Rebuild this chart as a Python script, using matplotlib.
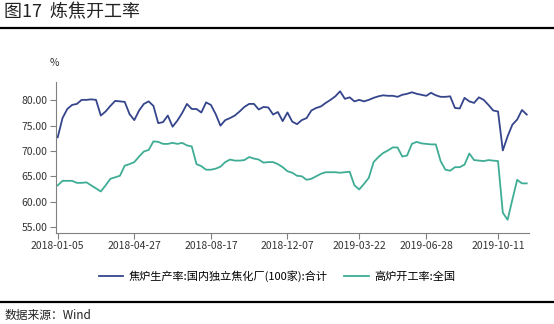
import numpy as np
import pandas as pd
import matplotlib
matplotlib.use('Agg')
import matplotlib.pyplot as plt

plt.rcParams['font.family'] = ['Noto Sans CJK SC', 'DejaVu Sans']

# weekly data, 2018-01-05 .. 2019-11-22
dates = pd.date_range('2018-01-05', periods=99, freq='7D')

coke_rate = [72.7, 76.5, 78.3, 79.1, 79.3, 80.1, 80.1, 80.2, 80.1, 77.0,
             77.8, 78.9, 79.9, 79.8, 79.7, 77.3, 76.1, 78.0, 79.3, 79.8,
             78.9, 75.5, 75.7, 77.0, 74.8, 76.0, 77.5, 79.3, 78.3, 78.3,
             77.6, 79.6, 79.1, 77.3, 75.0, 76.1, 76.5, 77.0, 77.8, 78.7,
             79.3, 79.3, 78.2, 78.7, 78.6, 77.2, 77.7, 75.9, 77.6, 75.8,
             75.3, 76.1, 76.5, 78.0, 78.5, 78.8, 79.5, 80.1, 80.8, 81.8,
             80.3, 80.6, 79.8, 80.1, 79.8, 80.1, 80.5, 80.8, 81.0, 80.9,
             80.9, 80.7, 81.1, 81.3, 81.6, 81.3, 81.1, 80.9, 81.5, 81.0,
             80.7, 80.7, 80.8, 78.5, 78.4, 80.5, 79.8, 79.5, 80.6, 80.1,
             79.1, 78.0, 77.8, 70.1, 72.9, 75.2, 76.2, 78.1, 77.2]

blast_rate = [63.2, 64.1, 64.1, 64.1, 63.7, 63.7, 63.8, 63.2, 62.6, 62.0,
              63.2, 64.5, 64.8, 65.1, 67.1, 67.4, 67.8, 68.9, 69.9, 70.2,
              71.9, 71.8, 71.4, 71.4, 71.6, 71.4, 71.6, 71.1, 70.9, 67.4,
              67.0, 66.3, 66.3, 66.5, 66.9, 67.8, 68.3, 68.1, 68.1, 68.2,
              68.8, 68.5, 68.3, 67.7, 67.8, 67.8, 67.4, 66.8, 66.0, 65.7,
              65.1, 65.0, 64.3, 64.5, 65.0, 65.5, 65.8, 65.8, 65.8, 65.7,
              65.8, 65.9, 63.2, 62.4, 63.5, 64.7, 67.8, 68.8, 69.6, 70.1,
              70.7, 70.7, 68.9, 69.1, 71.4, 71.8, 71.5, 71.4, 71.3, 71.3,
              68.0, 66.3, 66.1, 66.8, 66.8, 67.3, 69.5, 68.2, 68.1, 68.0,
              68.2, 68.1, 68.0, 57.8, 56.4, 60.4, 64.3, 63.6, 63.6]

tick_dates = ['2018-01-05', '2018-04-27', '2018-08-17', '2018-12-07',
              '2019-03-22', '2019-06-28', '2019-10-11']
y_ticks = [55, 60, 65, 70, 75, 80]

label_coke = '焦炉生产率:国内独立焦化厂(100家):合计'
label_blast = '高炉开工率:全国'

fig = plt.figure(figsize=(5.54, 3.24), dpi=100)
ax = fig.add_axes([0.1005, 0.281, 0.854, 0.467])

ax.plot(dates, coke_rate, color='#35458c', lw=1.3, label=label_coke)
ax.plot(dates, blast_rate, color='#3fad95', lw=1.3, label=label_blast)

ax.set_xlim(dates[0] - pd.Timedelta(days=3), dates[-1] + pd.Timedelta(days=3))
ax.set_ylim(53.8, 83.7)
ax.set_yticks(y_ticks)
ax.set_yticklabels(['%.2f' % v for v in y_ticks])
ax.set_xticks(pd.to_datetime(tick_dates))
ax.set_xticklabels(tick_dates)

for s in ['top', 'right']:
    ax.spines[s].set_visible(False)
for s in ['left', 'bottom']:
    ax.spines[s].set_color('#808080')
    ax.spines[s].set_linewidth(0.8)
ax.tick_params(axis='both', colors='#808080', labelcolor='#333333',
               labelsize=7.5, length=4, width=0.8)
ax.tick_params(axis='x', pad=2)
ax.tick_params(axis='y', pad=2)

fig.text(0.099, 0.805, '%', fontsize=7.5, color='#333333', ha='center', va='center')

ax.legend(loc='center', bbox_to_anchor=(0.5, 0.148), bbox_transform=fig.transFigure,
          ncol=2, frameon=False, fontsize=8, handlelength=2.2, columnspacing=1.5,
          handletextpad=0.5)

# title and rules
fig.text(0.008, 0.963, '图17  炼焦开工率', fontsize=13, style='italic',
         color='#222222', ha='left', va='center')
fig.add_artist(plt.Line2D([0.0, 1.0], [0.913, 0.913], color='black', lw=1.6,
                          transform=fig.transFigure))
fig.add_artist(plt.Line2D([0.0, 1.0], [0.068, 0.068], color='black', lw=1.6,
                          transform=fig.transFigure))
fig.text(0.008, 0.025, '数据来源：Wind', fontsize=8.5, style='italic',
         color='#222222', ha='left', va='center')

fig.savefig('out.png', dpi=100)
